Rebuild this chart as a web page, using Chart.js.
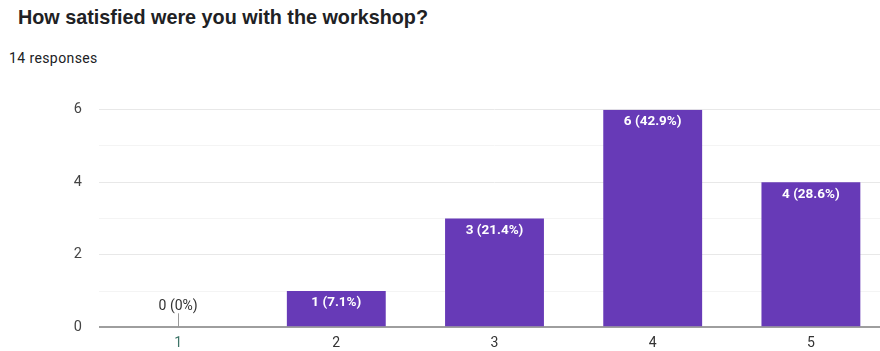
<!DOCTYPE html>
<html>
<head>
<meta charset="utf-8">
<script src="https://cdn.jsdelivr.net/npm/chart.js@4"></script>
<style>
    body { margin: 0; background: #fff; width: 880px; height: 351px; overflow: hidden; position: relative; }
    #title { position: absolute; left: 18px; top: 6px; font: bold 19.8px "Liberation Sans", Arial, sans-serif; color: #202124; }
    #sub { position: absolute; left: 9px; top: 50px; font: 14px Roboto, sans-serif; letter-spacing: 0.4px; color: #202124; }
    #wrap { position: absolute; left: 0; top: 84px; width: 892px; height: 269px; }
</style>
</head>
<body>
<div id="title">How satisfied were you with the workshop?</div>
<div id="sub">14 responses</div>
<div id="wrap"><canvas id="myChart"></canvas></div>
<script>
let categorias = ['1', '2', '3', '4', '5'];
let respuestas = [0, 1, 3, 6, 4];
let etiquetas = ['0 (0%)', '1 (7.1%)', '3 (21.4%)', '6 (42.9%)', '4 (28.6%)'];
let ticksY = [0, 2, 4, 6];

// etiquetas sobre las barras
const barLabels = {
    id: 'barLabels',
    afterDatasetsDraw(chart) {
        const ctx = chart.ctx;
        const meta = chart.getDatasetMeta(0);
        ctx.save();
        ctx.textAlign = 'center';
        ctx.textBaseline = 'middle';
        meta.data.forEach(function (bar, i) {
            if (respuestas[i] > 0) {
                ctx.font = 'bold 13.5px Roboto, sans-serif';
                ctx.fillStyle = '#ffffff';
                ctx.fillText(etiquetas[i], bar.x, bar.y + 12);
            } else {
                ctx.font = '14px Roboto, sans-serif';
                ctx.fillStyle = '#333333';
                ctx.fillText(etiquetas[i], bar.x, bar.base - 21);
                ctx.strokeStyle = '#999999';
                ctx.lineWidth = 1;
                ctx.beginPath();
                ctx.moveTo(Math.round(bar.x) + 0.5, bar.base - 14);
                ctx.lineTo(Math.round(bar.x) + 0.5, bar.base);
                ctx.stroke();
            }
        });
        ctx.restore();
    }
};

document.addEventListener('DOMContentLoaded', function () {
    var ctx = document.getElementById('myChart').getContext('2d');
    new Chart(ctx, {
        type: 'bar',
        data: {
            labels: categorias,
            datasets: [{
                data: respuestas,
                backgroundColor: '#673ab7',
                barPercentage: 0.625,
                categoryPercentage: 1
            }]
        },
        options: {
            responsive: true,
            maintainAspectRatio: false,
            animation: false,
            layout: { padding: { top: 10, right: 2, left: 0, bottom: 0 } },
            plugins: { legend: { display: false }, tooltip: { enabled: false } },
            scales: {
                x: {
                    grid: { display: false, drawTicks: false },
                    border: { display: false },
                    ticks: {
                        padding: 8,
                        font: { family: 'Roboto', size: 14 },
                        color: function (c) { return c.index === 0 ? '#3d7468' : '#333333'; }
                    },
                    afterFit: function (scale) { scale.height = 25; }
                },
                y: {
                    min: 0,
                    max: 6,
                    border: { display: false },
                    grid: {
                        drawTicks: false,
                        color: function (c) {
                            if (c.tick.value === 0) return '#9e9e9e';
                            return c.tick.value % 2 === 0 ? '#e8e8e8' : '#f4f4f4';
                        },
                        lineWidth: function (c) { return c.tick.value === 0 ? 2 : 1; }
                    },
                    ticks: {
                        stepSize: 1,
                        padding: 17,
                        font: { family: 'Roboto', size: 14.5 },
                        color: '#444444',
                        callback: function (v) { return ticksY.includes(v) ? v : ''; }
                    },
                    afterFit: function (scale) { scale.width = 99; }
                }
            }
        },
        plugins: [barLabels]
    });
});
</script>
</body>
</html>
